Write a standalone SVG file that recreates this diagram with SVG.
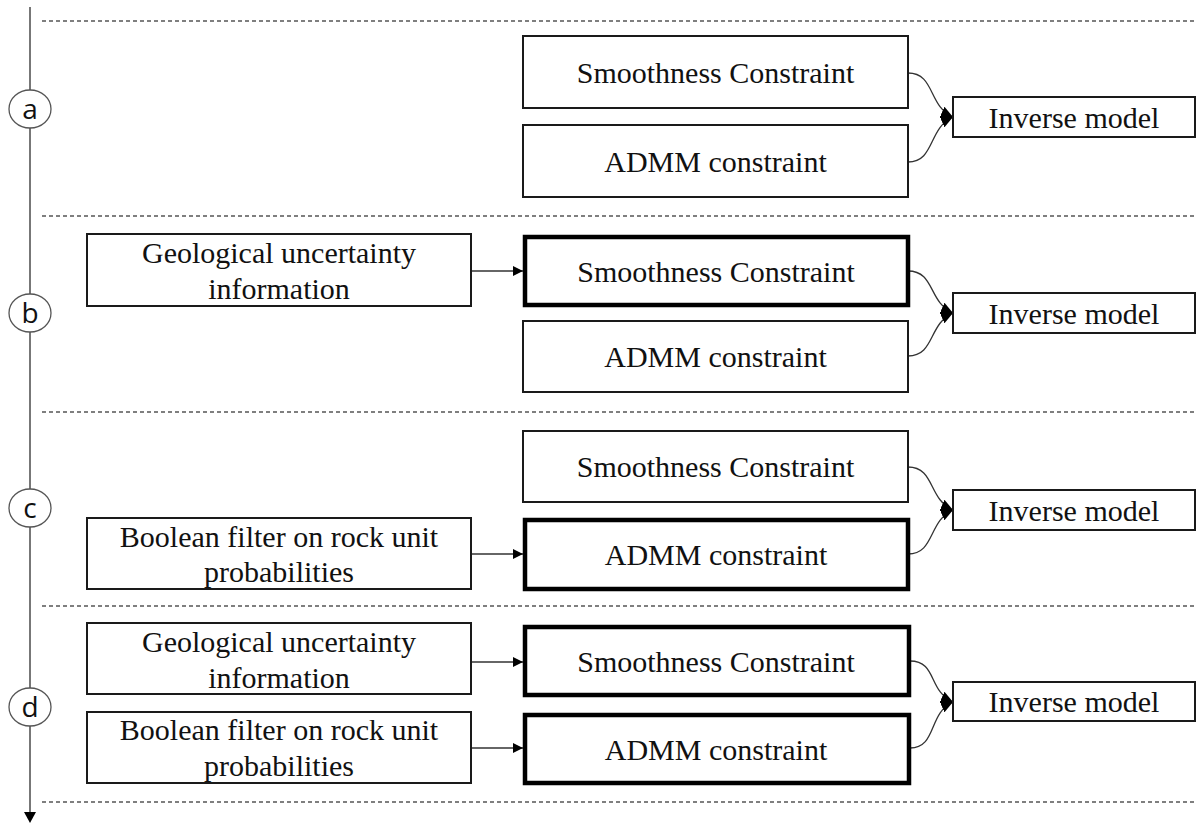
<svg xmlns="http://www.w3.org/2000/svg" width="1196" height="824" viewBox="0 0 1196 824">
<style>
  .bg{fill:#fff}
  .box{fill:#fff;stroke:#1a1a1a;stroke-width:2}
  .thick{fill:#fff;stroke:#000;stroke-width:4.5}
  .t{font-family:"Liberation Serif","Times New Roman",serif;font-size:30px;fill:#111;text-anchor:middle}
  .lbl{font-family:"Open Sans",Lato,sans-serif;font-size:28px;fill:#111;text-anchor:middle}
  .dash{stroke:#555;stroke-width:1.3;stroke-dasharray:4 3;fill:none}
  .axis{stroke:#555;stroke-width:1.6;fill:none}
  .circ{fill:#fff;stroke:#555;stroke-width:1.3}
  .conn{stroke:#333;stroke-width:1.3;fill:none}
</style>
<defs>
  <marker id="ah" viewBox="0 0 10 10" refX="10" refY="5" markerUnits="userSpaceOnUse" markerWidth="10" markerHeight="10" orient="auto">
    <path d="M0,0 L10,5 L0,10 Z" fill="#000"/>
  </marker>
  <marker id="ahc" viewBox="0 0 10 10" refX="10" refY="5" markerUnits="userSpaceOnUse" markerWidth="12" markerHeight="12" orient="auto">
    <path d="M0,0 L10,5 L0,10 Z" fill="#000"/>
  </marker>
</defs>
<rect class="bg" x="0" y="0" width="1196" height="824"/>

<g id="separators">
  <line class="dash" x1="42" y1="21" x2="1196" y2="21"/>
  <line class="dash" x1="42" y1="216" x2="1196" y2="216"/>
  <line class="dash" x1="42" y1="412" x2="1196" y2="412"/>
  <line class="dash" x1="42" y1="606" x2="1196" y2="606"/>
  <line class="dash" x1="42" y1="802" x2="1196" y2="802"/>
</g>

<g id="axis">
  <line class="axis" x1="30" y1="7" x2="30" y2="812"/>
  <path d="M24,812 L36,812 L30,823 Z" fill="#000"/>
</g>

<g id="label-a"><ellipse class="circ" cx="30" cy="109" rx="21" ry="19"/><text class="lbl" x="30" y="119">a</text></g>
<g id="label-b"><ellipse class="circ" cx="30" cy="313" rx="21" ry="19"/><text class="lbl" x="30" y="323">b</text></g>
<g id="label-c"><ellipse class="circ" cx="30" cy="508" rx="21" ry="19"/><text class="lbl" x="30" y="518">c</text></g>
<g id="label-d"><ellipse class="circ" cx="30" cy="707" rx="21" ry="19"/><text class="lbl" x="30" y="717">d</text></g>

<g id="connectors">
  <path class="conn" d="M908,73 C935,73 928,106 953,117" marker-end="url(#ahc)"/>
  <path class="conn" d="M908,162 C935,162 928,128 953,117" marker-end="url(#ahc)"/>

  <line class="conn" x1="471" y1="271" x2="523" y2="271" marker-end="url(#ah)"/>
  <path class="conn" d="M908,271 C935,271 928,302 953,313" marker-end="url(#ahc)"/>
  <path class="conn" d="M908,356 C935,356 928,324 953,313" marker-end="url(#ahc)"/>

  <line class="conn" x1="471" y1="554" x2="523" y2="554" marker-end="url(#ah)"/>
  <path class="conn" d="M908,467 C935,467 928,499 953,510" marker-end="url(#ahc)"/>
  <path class="conn" d="M908,554 C935,554 928,521 953,510" marker-end="url(#ahc)"/>

  <line class="conn" x1="471" y1="662" x2="523" y2="662" marker-end="url(#ah)"/>
  <line class="conn" x1="471" y1="748" x2="523" y2="748" marker-end="url(#ah)"/>
  <path class="conn" d="M910,661 C937,661 928,691 953,702" marker-end="url(#ahc)"/>
  <path class="conn" d="M910,748 C937,748 928,713 953,702" marker-end="url(#ahc)"/>
</g>

<!-- Section a -->
<g id="a-smooth"><rect class="box" x="523" y="36" width="385" height="72"/><text class="t" x="715.5" y="83">Smoothness Constraint</text></g>
<g id="a-admm"><rect class="box" x="523" y="125" width="385" height="72"/><text class="t" x="715.5" y="172">ADMM constraint</text></g>
<g id="a-inverse"><rect class="box" x="953" y="97" width="242" height="40"/><text class="t" x="1074" y="128">Inverse model</text></g>

<!-- Section b -->
<g id="b-geo"><rect class="box" x="87" y="234" width="384" height="72"/><text class="t" x="279" y="263">Geological uncertainty</text><text class="t" x="279" y="299">information</text></g>
<g id="b-smooth"><rect class="thick" x="525" y="237" width="383" height="68"/><text class="t" x="716" y="282">Smoothness Constraint</text></g>
<g id="b-admm"><rect class="box" x="523" y="321" width="385" height="71"/><text class="t" x="715.5" y="367">ADMM constraint</text></g>
<g id="b-inverse"><rect class="box" x="953" y="293" width="242" height="40"/><text class="t" x="1074" y="324">Inverse model</text></g>

<!-- Section c -->
<g id="c-smooth"><rect class="box" x="523" y="431" width="385" height="71"/><text class="t" x="715.5" y="477">Smoothness Constraint</text></g>
<g id="c-admm"><rect class="thick" x="525" y="520" width="383" height="69"/><text class="t" x="716" y="565">ADMM constraint</text></g>
<g id="c-bool"><rect class="box" x="87" y="518" width="384" height="71"/><text class="t" x="279" y="547">Boolean filter on rock unit</text><text class="t" x="279" y="582">probabilities</text></g>
<g id="c-inverse"><rect class="box" x="953" y="490" width="242" height="40"/><text class="t" x="1074" y="521">Inverse model</text></g>

<!-- Section d -->
<g id="d-geo"><rect class="box" x="87" y="623" width="384" height="71"/><text class="t" x="279" y="652">Geological uncertainty</text><text class="t" x="279" y="688">information</text></g>
<g id="d-bool"><rect class="box" x="87" y="712" width="384" height="71"/><text class="t" x="279" y="740">Boolean filter on rock unit</text><text class="t" x="279" y="776">probabilities</text></g>
<g id="d-smooth"><rect class="thick" x="525" y="627" width="384" height="68"/><text class="t" x="716" y="672">Smoothness Constraint</text></g>
<g id="d-admm"><rect class="thick" x="525" y="715" width="384" height="68"/><text class="t" x="716" y="760">ADMM constraint</text></g>
<g id="d-inverse"><rect class="box" x="953" y="682" width="242" height="39"/><text class="t" x="1074" y="712">Inverse model</text></g>
</svg>
